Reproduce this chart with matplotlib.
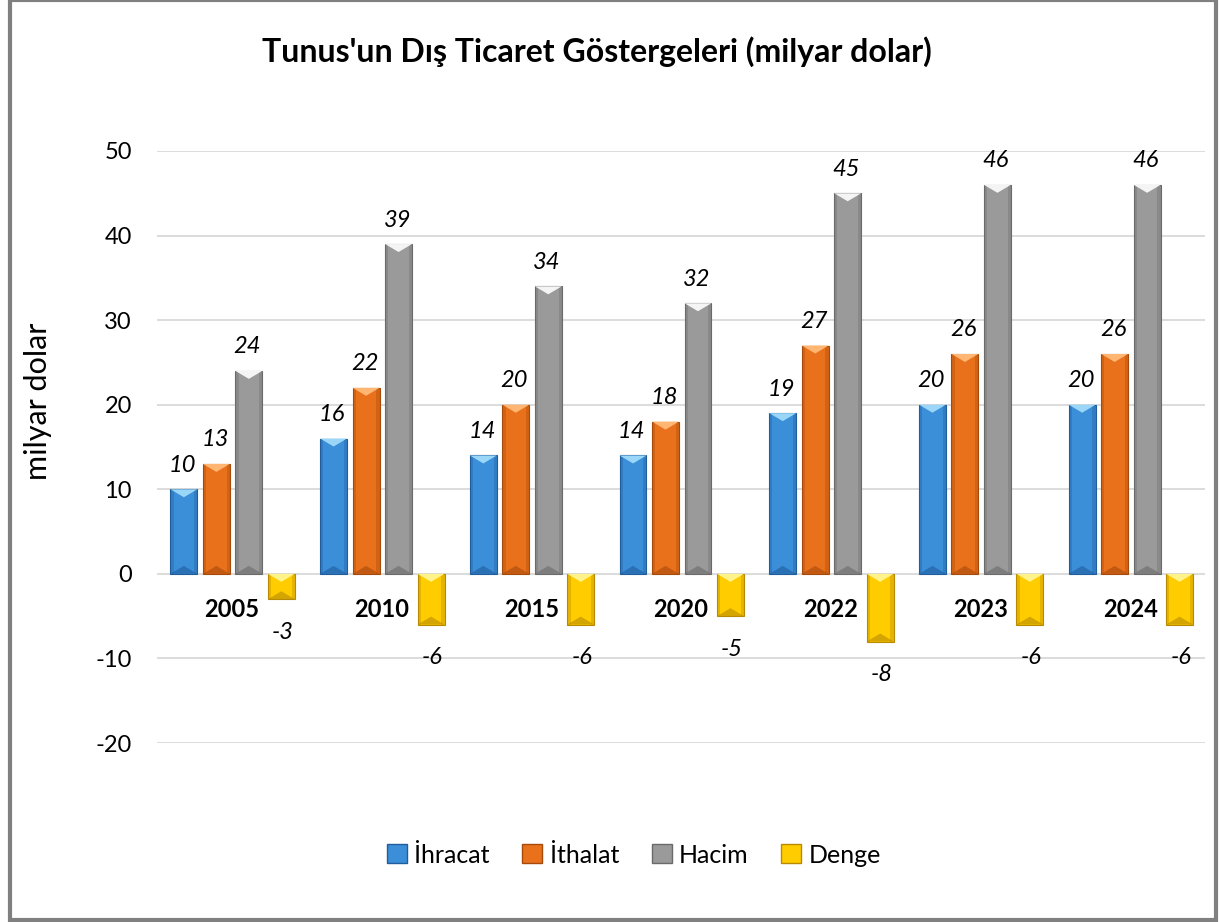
import numpy as np
import matplotlib.pyplot as plt
from matplotlib.patches import Patch, Polygon, Rectangle

plt.rcParams['font.family'] = ['Lato', 'DejaVu Sans']
plt.rcParams['axes.unicode_minus'] = False

# veriler
years = ['2005', '2010', '2015', '2020', '2022', '2023', '2024']
ihracat = [10, 16, 14, 14, 19, 20, 20]
ithalat = [13, 22, 20, 18, 27, 26, 26]
hacim = [24, 39, 34, 32, 45, 46, 46]
denge = [-3, -6, -6, -5, -8, -6, -6]

series_names = ['İhracat', 'İthalat', 'Hacim', 'Denge']
# (ana renk, açık, koyu)
series_colors = [
    ('#3b8ed8', '#9ad6f7', '#1f5d9c'),
    ('#ea711b', '#ffb673', '#a64a0c'),
    ('#9a9a9a', '#f4f4f4', '#6a6a6a'),
    ('#ffcc00', '#fff38a', '#b88a00'),
]

W, H = 1220, 922
fig = plt.figure(figsize=(W / 100, H / 100), dpi=100)
ax = fig.add_axes([157 / W, 1 - 743 / H, (1205 - 157) / W, (743 - 151) / H])

ax.set_xlim(-0.5, 6.5)
ax.set_ylim(-20, 50)
ax.set_yticks(np.arange(-20, 51, 10))
ax.yaxis.grid(True, color='#d9d9d9', linewidth=1.3, zorder=0)
ax.set_axisbelow(True)
for s in ax.spines.values():
    s.set_visible(False)
ax.set_xticks([])
ax.tick_params(axis='y', length=0, pad=18, labelsize=17)

px_per_unit = (743 - 151) / 70.0
bevel = 8 / px_per_unit  # bevel yüksekliği (veri birimi)
step = 0.217
bw = 0.18
x = np.arange(len(years))

all_series = [ihracat, ithalat, hacim, denge]
for k, (vals, name, (c, cl, cd)) in enumerate(zip(all_series, series_names, series_colors)):
    xs = x + (k - 1.5) * step + 0.005
    bars = ax.bar(xs, vals, bw, color=c, edgecolor=cd, linewidth=0.8, zorder=3)
    for b, v in zip(bars, vals):
        x0 = b.get_x()
        x1 = x0 + b.get_width()
        xc = (x0 + x1) / 2
        top = max(0, v)
        bot = min(0, v)
        hh = min(bevel, (top - bot) / 2)
        # yan kenarlar biraz koyu
        ax.add_patch(Rectangle((x0, bot), bw * 0.12, top - bot, color=cd, alpha=0.35, lw=0, zorder=4))
        ax.add_patch(Rectangle((x1 - bw * 0.12, bot), bw * 0.12, top - bot, color=cd, alpha=0.35, lw=0, zorder=4))
        ax.add_patch(Polygon([(x0, top), (x1, top), (xc, top - hh)], closed=True,
                             color=cl, lw=0, zorder=5))
        ax.add_patch(Polygon([(x0, bot), (x1, bot), (xc, bot + hh)], closed=True,
                             color=cd, alpha=0.6, lw=0, zorder=5))
        if v >= 0:
            ax.annotate(str(v), (xc, v), xytext=(-1, 17.3), textcoords='offset points',
                        ha='center', va='center', fontsize=17, style='italic', zorder=6)
        else:
            ax.annotate(str(v), (xc, v), xytext=(1, -23.8), textcoords='offset points',
                        ha='center', va='center', fontsize=17, style='italic', zorder=6)

# kategori etiketleri sıfır çizgisinin hemen altında
for i, yl in enumerate(years):
    ax.annotate(yl, (i, 0), xytext=(0, -26), textcoords='offset points',
                ha='center', va='center', fontsize=17, fontweight='bold', zorder=6)

fig.text(597 / W, 1 - 52 / H, "Tunus'un Dış Ticaret Göstergeleri (milyar dolar)",
         ha='center', va='center', fontsize=23, fontweight='bold')
fig.text(38 / W, 1 - 401 / H, 'milyar dolar', rotation=90, ha='center', va='center',
         fontsize=22)

handles = [Patch(facecolor=c[0], edgecolor=c[2], label=n) for n, c in zip(series_names, series_colors)]
fig.legend(handles=handles, loc='center', bbox_to_anchor=(634 / W, 1 - 855 / H), ncol=4,
           frameon=False, fontsize=18, handlelength=0.8, handleheight=0.8,
           handletextpad=0.3, columnspacing=1.3)

# dış çerçeve
fig.patches.append(Rectangle((10 / W, 2 / H), 1206 / W, 1 - 2 / H, transform=fig.transFigure,
                             fill=False, edgecolor='#808080', linewidth=3))

fig.savefig('out.png', dpi=100, facecolor='white')
